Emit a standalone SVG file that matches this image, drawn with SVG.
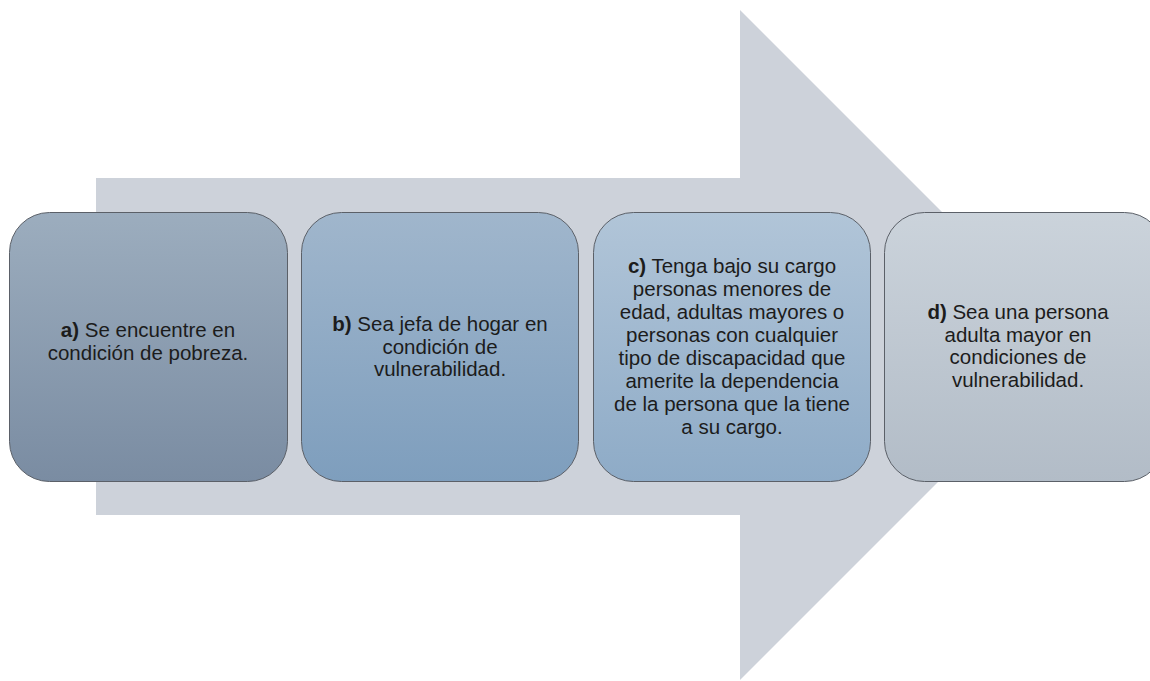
<svg xmlns="http://www.w3.org/2000/svg" width="1150" height="681" viewBox="0 0 1150 681">
<defs>
<linearGradient id="ga" x1="0" y1="0" x2="0" y2="1"><stop offset="0" stop-color="#9cadbe"/><stop offset="1" stop-color="#7a8ca2"/></linearGradient>
<linearGradient id="gb" x1="0" y1="0" x2="0" y2="1"><stop offset="0" stop-color="#a0b6cc"/><stop offset="1" stop-color="#7e9ebd"/></linearGradient>
<linearGradient id="gc" x1="0" y1="0" x2="0" y2="1"><stop offset="0" stop-color="#b1c5d8"/><stop offset="1" stop-color="#8eabc7"/></linearGradient>
<linearGradient id="gd" x1="0" y1="0" x2="0" y2="1"><stop offset="0" stop-color="#cbd3db"/><stop offset="1" stop-color="#b2bcc7"/></linearGradient>
</defs>
<style>
.box{stroke:#5b6068;stroke-width:1}
.t{font-family:"Liberation Sans",Arial,sans-serif;font-size:20.5px;fill:#1c1c1c;text-anchor:middle}
.b{font-weight:bold}
</style>
<rect width="1150" height="681" fill="#ffffff"/>
<g id="arrow">
<polygon points="96,178 740,178 740,10 1075,345 740,680 740,515 96,515" fill="#cdd2da"/>
</g>
<g id="connectors"></g>
<g id="node-a">
<rect class="box" x="9.5" y="212.5" width="278" height="269" rx="40" fill="url(#ga)"/>
<text class="t" x="148" y="337"><tspan class="b">a)</tspan> Se encuentre en</text>
<text class="t" x="148" y="359.5">condición de pobreza.</text>
</g>
<g id="node-b">
<rect class="box" x="301.5" y="212.5" width="277" height="269" rx="40" fill="url(#gb)"/>
<text class="t" x="440" y="331"><tspan class="b">b)</tspan> Sea jefa de hogar en</text>
<text class="t" x="440" y="353.5">condición de</text>
<text class="t" x="440" y="376">vulnerabilidad.</text>
</g>
<g id="node-c">
<rect class="box" x="593.5" y="212.5" width="277" height="269" rx="40" fill="url(#gc)"/>
<text class="t" x="732" y="273"><tspan class="b">c)</tspan> Tenga bajo su cargo</text>
<text class="t" x="732" y="296">personas menores de</text>
<text class="t" x="732" y="319">edad, adultas mayores o</text>
<text class="t" x="732" y="342">personas con cualquier</text>
<text class="t" x="732" y="365">tipo de discapacidad que</text>
<text class="t" x="732" y="388">amerite la dependencia</text>
<text class="t" x="732" y="411">de la persona que la tiene</text>
<text class="t" x="732" y="434">a su cargo.</text>
</g>
<g id="node-d">
<rect class="box" x="884.5" y="212.5" width="280" height="269" rx="40" fill="url(#gd)"/>
<text class="t" x="1018" y="319"><tspan class="b">d)</tspan> Sea una persona</text>
<text class="t" x="1018" y="341.5">adulta mayor en</text>
<text class="t" x="1018" y="364">condiciones de</text>
<text class="t" x="1018" y="386.5">vulnerabilidad.</text>
</g>
</svg>
